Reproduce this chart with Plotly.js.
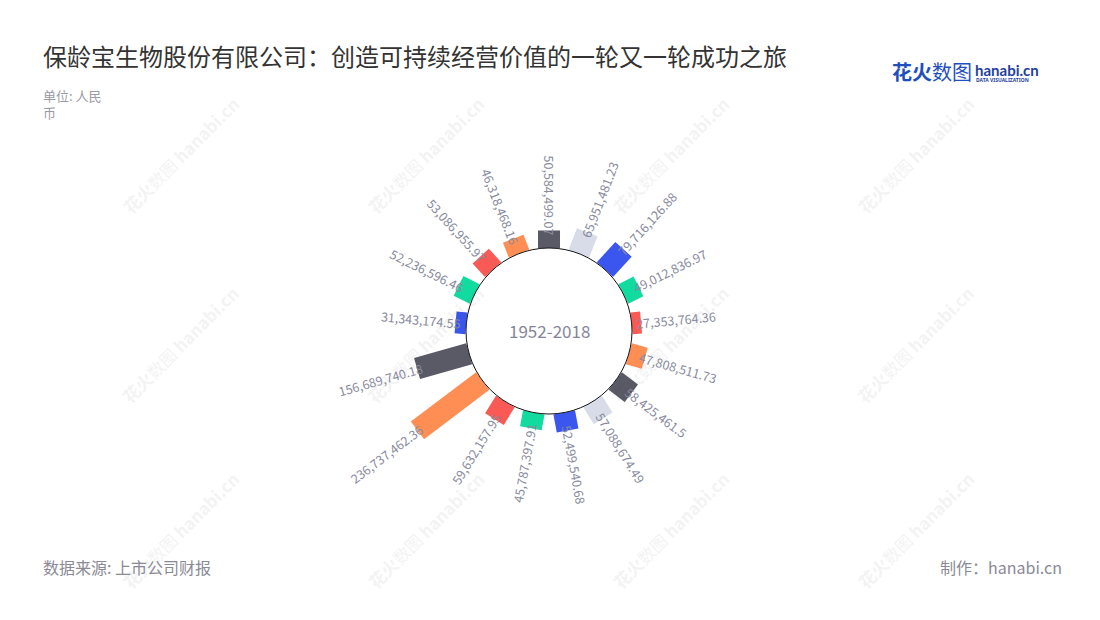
<!DOCTYPE html>
<html>
<head>
<meta charset="utf-8">
<script src="https://cdn.plot.ly/plotly-3.0.1.min.js"></script>
<style>html,body{margin:0;padding:0;background:#fff;}#chart{width:1100px;height:620px;}</style>
</head>
<body>
<div id="chart"></div>
<script>
// ---- data ----
const categories = ['2002','2003','2004','2005','2006','2007','2008','2009','2010','2011','2012','2013','2014','2015','2016','2017','2018'];
const values = [50584499.07, 65951481.23, 79716126.88, 49012836.97, 27353764.36, 47808511.73, 58425461.5, 57088674.49, 52499540.68, 45787397.91, 59632157.95, 236737462.36, 156689740.18, 31343174.55, 52236596.46, 53086955.97, 46318468.16];
const colorKeys = ['dark','light','blue','green','red','orange','dark','light','blue','green','red','orange','dark','blue','green','red','orange'];
const centerLabel = '1952-2018';

// ---- styling ----
const palette = {dark:'#595a65', light:'#d8dce8', blue:'#3a56ee', green:'#12dba0', red:'#fa5a56', orange:'#ff8e55'};
const W = 1100, H = 620;
const CX = 549, CY = 331, R = 166, HOLE = 0.5;
const RMAX = 240000000;
const FONT = '"Noto Sans CJK SC", "Noto Sans", sans-serif';
const labelColor = '#888a9c';

const traces = values.map((v, i) => ({
  type: 'scatterpolar', mode: 'lines',
  r: [0, v], theta: [categories[i], categories[i]],
  line: {color: palette[colorKeys[i]], width: 22},
  cliponaxis: false, hoverinfo: 'skip', showlegend: false
}));

// text measurement
const cv = document.createElement('canvas').getContext('2d');
cv.font = '12.5px ' + FONT;

const annotations = [];
const holePx = R * HOLE;

// watermarks (drawn first, underneath)
const wmX = [180, 425, 670, 915], wmY = [155, 345, 530];
wmY.forEach(y => wmX.forEach(x => {
  annotations.push({xref:'paper', yref:'paper', x: x/W, y: 1 - y/H, xanchor:'center', yanchor:'middle', showarrow:false,
    text:'<b>花火</b>数图 <b>hanabi.cn</b>', textangle: -45, opacity: 0.06,
    font:{family: FONT, size: 17, color:'#444444'}});
}));

values.forEach((v, i) => {
  const txt = v.toLocaleString('en-US', {maximumFractionDigits: 2});
  const L = cv.measureText(txt).width;
  const th = i * 360 / categories.length;
  const rEnd = holePx + v / RMAX * (R - holePx);
  const rc = rEnd - 5 + L / 2;
  const rad = th * Math.PI / 180;
  const px = CX + rc * Math.sin(rad), py = CY - rc * Math.cos(rad);
  let ang = (th > 0 && th < 180) ? th - 90 : th - 270;
  while (ang > 180) ang -= 360;
  while (ang <= -180) ang += 360;
  annotations.push({
    xref: 'paper', yref: 'paper', x: px / W, y: 1 - py / H,
    xanchor: 'center', yanchor: 'middle', showarrow: false,
    text: txt, textangle: ang,
    font: {family: FONT, size: 12.5, color: labelColor}
  });
});

// center label
annotations.push({xref:'paper', yref:'paper', x: CX / W, y: 1 - CY / H, xanchor:'center', yanchor:'middle', showarrow:false,
  text: centerLabel, font:{family: FONT, size: 17, color:'#85869a'}});

// header / footer texts
annotations.push({xref:'paper', yref:'paper', x: 41/W, y: 1 - 55/H, xanchor:'left', yanchor:'middle', showarrow:false,
  text:'保龄宝生物股份有限公司：创造可持续经营价值的一轮又一轮成功之旅', font:{family: FONT, size: 24, color:'#333333'}});
annotations.push({xref:'paper', yref:'paper', x: 41/W, y: 1 - 84/H, xanchor:'left', yanchor:'top', showarrow:false, align:'left',
  text:'单位: 人民<br>币', font:{family: FONT, size: 13, color:'#9a9aa6'}});
annotations.push({xref:'paper', yref:'paper', x: 41/W, y: 1 - 567/H, xanchor:'left', yanchor:'middle', showarrow:false,
  text:'数据来源: 上市公司财报', font:{family: FONT, size: 16, color:'#8a8a96'}});
annotations.push({xref:'paper', yref:'paper', x: 1064/W, y: 1 - 567/H, xanchor:'right', yanchor:'middle', showarrow:false,
  text:'制作：hanabi.cn', font:{family: FONT, size: 16, color:'#8a8a96'}});

// logo
annotations.push({xref:'paper', yref:'paper', x: 890/W, y: 1 - 72/H, xanchor:'left', yanchor:'middle', showarrow:false,
  text:'<b>花火</b>数图', font:{family: FONT, size: 20, color:'#1f4fbf'}});
annotations.push({xref:'paper', yref:'paper', x: 973/W, y: 1 - 70/H, xanchor:'left', yanchor:'middle', showarrow:false,
  text:'<b>hanabi.cn</b>', font:{family: 'Lato, "Noto Sans", sans-serif', size: 15, color:'#1f3f9f'}});
annotations.push({xref:'paper', yref:'paper', x: 974/W, y: 1 - 80/H, xanchor:'left', yanchor:'middle', showarrow:false,
  text:'<b>DATA VISUALIZATION</b>', font:{family: '"Noto Sans", sans-serif', size: 5, color:'#1f3f9f'}});

const layout = {
  width: W, height: H,
  margin: {l:0, r:0, t:0, b:0},
  paper_bgcolor: '#ffffff', plot_bgcolor: '#ffffff',
  showlegend: false,
  polar: {
    domain: {x: [(CX - R) / W, (CX + R) / W], y: [1 - (CY + R) / H, 1 - (CY - R) / H]},
    hole: HOLE,
    bgcolor: 'rgba(0,0,0,0)',
    radialaxis: {range: [0, RMAX], showgrid: false, showticklabels: false, showline: false, ticks: ''},
    angularaxis: {type: 'category', categoryarray: categories, rotation: 90, direction: 'clockwise',
      showgrid: false, showticklabels: false, showline: false, ticks: ''}
  },
  shapes: [{type:'circle', xref:'paper', yref:'paper', layer:'above',
    x0: (CX - holePx) / W, x1: (CX + holePx) / W, y0: 1 - (CY + holePx) / H, y1: 1 - (CY - holePx) / H,
    line: {color:'#111111', width: 1}}],
  annotations: annotations
};

Plotly.newPlot('chart', traces, layout, {displayModeBar: false, staticPlot: true});
</script>
</body>
</html>
